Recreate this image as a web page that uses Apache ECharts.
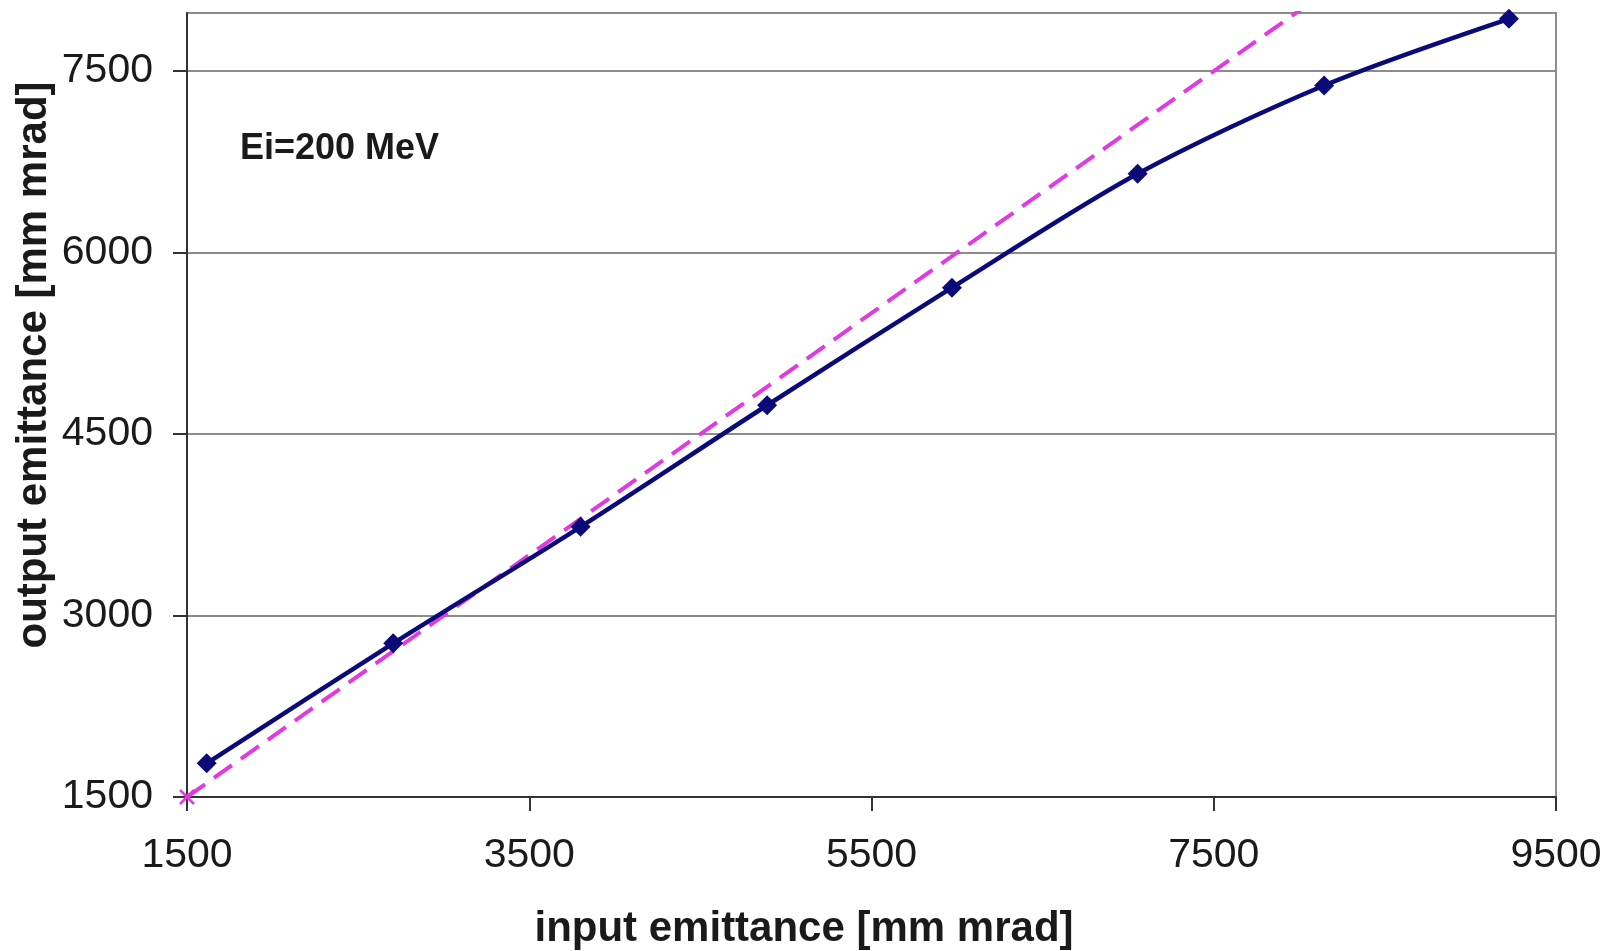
<!DOCTYPE html>
<html>
<head>
<meta charset="utf-8">
<title>output vs input emittance</title>
<script src="https://cdn.jsdelivr.net/npm/echarts@6/dist/echarts.min.js"></script>
<style>
  html, body { margin: 0; padding: 0; background: #fff; }
  #chart { width: 1612px; height: 951px; }
</style>
</head>
<body>
<div id="chart"></div>
<script>
// input emittance [mm mrad]
const inputEmit = [1615, 2705, 3800, 4890, 5970, 7055, 8145, 9225];
// output emittance [mm mrad]
const outputEmit = [1778, 2770, 3733, 4738, 5710, 6651, 7381, 7932];
// reference line output = input
const refX = [1500, 9500];
const refY = [1500, 9500];

const xTicks = [1500, 3500, 5500, 7500, 9500];
const yTicks = [1500, 3000, 4500, 6000, 7500];

const FONT = 'Liberation Sans, Arial, sans-serif';

const chart = echarts.init(document.getElementById('chart'));

const option = {
  backgroundColor: '#fff',
  animation: false,
  grid: {
    left: 187, right: 56, top: 13, bottom: 154,
    show: true, borderColor: '#8c8c8c', borderWidth: 2, backgroundColor: '#fff'
  },
  xAxis: {
    type: 'value',
    min: xTicks[0], max: xTicks[xTicks.length - 1], interval: 2000,
    axisLine: { lineStyle: { color: '#333', width: 2 } },
    axisTick: { show: true, inside: false, length: 14, lineStyle: { color: '#333', width: 2 } },
    axisLabel: {
      fontFamily: FONT, fontSize: 41, color: '#1a1a1a', margin: 38,
      formatter: v => String(v)
    },
    splitLine: { show: false }
  },
  yAxis: {
    type: 'value',
    min: yTicks[0], max: 7980, interval: 1500,
    axisLine: { show: true, lineStyle: { color: '#333', width: 2 } },
    axisTick: { show: true, inside: false, length: 14, lineStyle: { color: '#333', width: 2 } },
    axisLabel: {
      fontFamily: FONT, fontSize: 41, color: '#1a1a1a', margin: 34,
      showMaxLabel: false,
      formatter: v => (yTicks.includes(v) ? String(v) : '')
    },
    splitLine: { show: true, lineStyle: { color: '#8c8c8c', width: 2 } }
  },
  graphic: [
    {
      type: 'text', left: 240, top: 131,
      style: { text: 'Ei=200 MeV', font: 'bold 36px ' + FONT, fill: '#1a1a1a' }
    },
    {
      type: 'text', x: 804, y: 929,
      style: {
        text: 'input emittance [mm mrad]', font: 'bold 42px ' + FONT, fill: '#1a1a1a',
        align: 'center', verticalAlign: 'middle'
      }
    },
    {
      type: 'text', x: 34, y: 365, rotation: Math.PI / 2,
      style: {
        text: 'output emittance [mm mrad]', font: 'bold 42px ' + FONT, fill: '#1a1a1a',
        align: 'center', verticalAlign: 'middle'
      }
    }
  ],
  series: [
    {
      name: 'reference',
      type: 'line',
      data: refX.map((x, i) => (i === 0
        ? { value: [x, refY[i]], symbol: 'path://M0,0L10,10M10,0L0,10', symbolSize: 14 }
        : { value: [x, refY[i]], symbol: 'none' })),
      clip: true,
      lineStyle: { color: '#e03be0', width: 4, type: [22, 11] },
      itemStyle: { color: '#e03be0', borderColor: '#e03be0', borderWidth: 2.5 },
      z: 2
    },
    {
      name: 'Ei=200 MeV',
      type: 'line',
      data: inputEmit.map((x, i) => [x, outputEmit[i]]),
      smooth: 0.3,
      symbol: 'diamond',
      symbolSize: 20,
      lineStyle: { color: '#0a0a78', width: 4.5 },
      itemStyle: { color: '#0a0a78' },
      z: 3
    }
  ]
};

chart.setOption(option);
</script>
</body>
</html>
